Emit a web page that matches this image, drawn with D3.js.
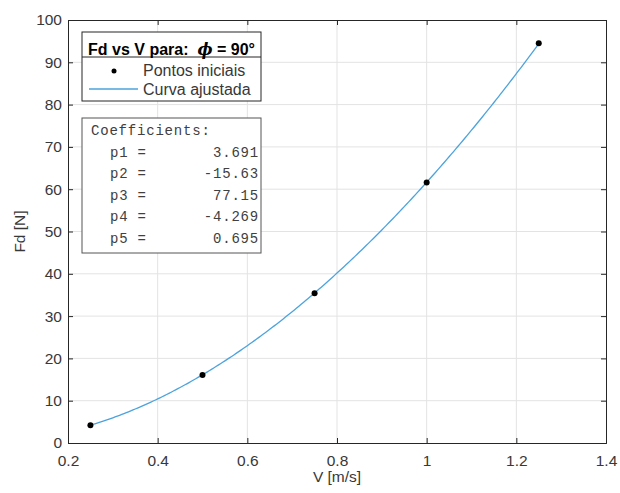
<!DOCTYPE html>
<html>
<head>
<meta charset="utf-8">
<script src="https://cdn.jsdelivr.net/npm/d3@7"></script>
<style>
  body { margin: 0; background: #fff; }
  svg { display: block; font-family: "Liberation Sans", Arial, sans-serif; }
</style>
</head>
<body>
<svg id="chart" width="620" height="493"></svg>
<script>
// Measured points
const speeds = [0.25, 0.5, 0.75, 1.0, 1.25];
const forces = [4.2, 16.1, 35.4, 61.6, 94.5];

// Fitted polynomial coefficients (p1*x^4 + ... + p5)
const coefNames = ["p1", "p2", "p3", "p4", "p5"];
const coefValues = [3.691, -15.63, 77.15, -4.269, 0.695];
const coefLabels = ["3.691", "-15.63", "77.15", "-4.269", "0.695"];

// Axis ticks
const xTicks = [0.2, 0.4, 0.6, 0.8, 1.0, 1.2, 1.4];
const yTicks = [0, 10, 20, 30, 40, 50, 60, 70, 80, 90, 100];

const svg = d3.select("#chart");
const plotL = 68, plotR = 606, plotT = 20, plotB = 443;

const x = d3.scaleLinear().domain([0.2, 1.4]).range([plotL, plotR]);
const y = d3.scaleLinear().domain([0, 100]).range([plotB, plotT]);

const axisColor = "#262626";
const textColor = "#383838";

// Grid
const grid = svg.append("g");
grid.selectAll(".gx").data(xTicks.slice(1, -1)).enter().append("line")
  .attr("x1", d => x(d)).attr("x2", d => x(d))
  .attr("y1", plotT).attr("y2", plotB)
  .attr("stroke", "#e3e3e3").attr("stroke-width", 1);
grid.selectAll(".gy").data(yTicks.slice(1, -1)).enter().append("line")
  .attr("x1", plotL).attr("x2", plotR)
  .attr("y1", d => y(d)).attr("y2", d => y(d))
  .attr("stroke", "#e3e3e3").attr("stroke-width", 1);

// Axes (ticks point inward)
const xAxisB = d3.axisBottom(x).tickValues(xTicks).tickSize(-5).tickPadding(12)
  .tickFormat(d => d3.format("~g")(d));
const xAxisT = d3.axisTop(x).tickValues(xTicks).tickSize(-5).tickFormat("");
const yAxisL = d3.axisLeft(y).tickValues(yTicks).tickSize(-5).tickPadding(6);
const yAxisR = d3.axisRight(y).tickValues(yTicks).tickSize(-5).tickFormat("");

function style(g) {
  g.selectAll("path").attr("stroke", axisColor);
  g.selectAll("line").attr("stroke", axisColor);
  g.selectAll("text").attr("fill", textColor).style("font-size", "15.5px")
    .style("font-family", "'Liberation Sans', Arial, sans-serif");
}
svg.append("g").attr("transform", `translate(0,${plotB})`).call(xAxisB).call(style);
svg.append("g").attr("transform", `translate(0,${plotT})`).call(xAxisT).call(style);
svg.append("g").attr("transform", `translate(${plotL},0)`).call(yAxisL).call(style);
svg.append("g").attr("transform", `translate(${plotR},0)`).call(yAxisR).call(style);
svg.selectAll(".domain").attr("stroke-width", 1);

// Axis labels
svg.append("text").attr("x", (plotL + plotR) / 2).attr("y", 482)
  .attr("text-anchor", "middle").attr("fill", textColor).style("font-size", "15.5px")
  .text("V [m/s]");
svg.append("text").attr("transform", `translate(25,${(plotT + plotB) / 2}) rotate(-90)`)
  .attr("text-anchor", "middle").attr("fill", textColor).style("font-size", "15.5px")
  .text("Fd [N]");

// Fitted curve evaluated from the coefficients
const poly = v => coefValues.reduce((acc, c) => acc * v + c, 0);
const curveX = d3.range(0, 201).map(i => speeds[0] + (speeds[speeds.length - 1] - speeds[0]) * i / 200);
svg.append("path")
  .datum(curveX)
  .attr("fill", "none").attr("stroke", "#4da3dd").attr("stroke-width", 1.3)
  .attr("d", d3.line().x(d => x(d)).y(d => y(poly(d))));

// Measured points
svg.selectAll(".pt").data(speeds).enter().append("circle")
  .attr("cx", d => x(d)).attr("cy", (d, i) => y(forces[i]))
  .attr("r", 3).attr("fill", "#000");

// Legend
const lg = svg.append("g");
lg.append("rect").attr("x", 82).attr("y", 32).attr("width", 179).attr("height", 69)
  .attr("fill", "#fff").attr("stroke", axisColor).attr("stroke-width", 1);
lg.append("line").attr("x1", 82).attr("x2", 261).attr("y1", 57).attr("y2", 57)
  .attr("stroke", axisColor);
const title = lg.append("text").attr("x", 171.5).attr("y", 55).attr("text-anchor", "middle")
  .attr("fill", "#000").style("font-size", "16px").style("font-weight", "bold")
  .style("white-space", "pre");
title.append("tspan").text("Fd vs V para:  ");
title.append("tspan").style("font-style", "italic").style("font-family", "'DejaVu Serif', serif").text("ϕ");
title.append("tspan").text(" = 90°");
lg.append("circle").attr("cx", 114).attr("cy", 71).attr("r", 2.5).attr("fill", "#000");
lg.append("text").attr("x", 143).attr("y", 76).attr("fill", textColor)
  .style("font-size", "16px").text("Pontos iniciais");
lg.append("line").attr("x1", 89).attr("x2", 138).attr("y1", 89).attr("y2", 89)
  .attr("stroke", "#4da3dd").attr("stroke-width", 1.3);
lg.append("text").attr("x", 143).attr("y", 95).attr("fill", textColor)
  .style("font-size", "16px").text("Curva ajustada");

// Coefficient box
const cb = svg.append("g").style("font-family", "'Liberation Mono', 'Courier New', monospace")
  .style("font-size", "14px").style("letter-spacing", "0.8px");
cb.append("rect").attr("x", 82).attr("y", 118).attr("width", 179).attr("height", 135)
  .attr("fill", "#fff").attr("stroke", "#555").attr("stroke-width", 1);
cb.append("text").attr("x", 91).attr("y", 135).attr("fill", "#404040").text("Coefficients:");
const rowY = i => 156.5 + i * 21.5;
cb.selectAll(".cn").data(coefNames).enter().append("text")
  .attr("x", 110).attr("y", (d, i) => rowY(i)).attr("fill", "#404040")
  .text(d => d + " =");
cb.selectAll(".cv").data(coefLabels).enter().append("text")
  .attr("x", 259).attr("y", (d, i) => rowY(i)).attr("text-anchor", "end").attr("fill", "#404040")
  .text(d => d);
</script>
</body>
</html>
